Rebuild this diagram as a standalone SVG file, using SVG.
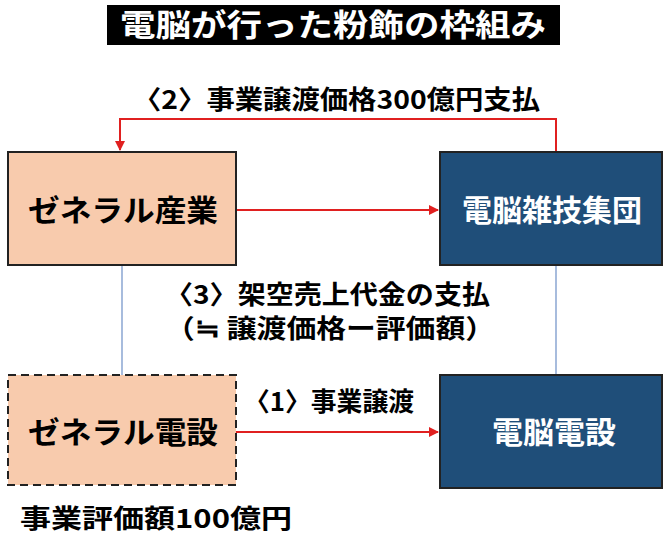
<svg xmlns="http://www.w3.org/2000/svg" width="670" height="543" viewBox="0 0 670 543">
<style>
text{font-family:"Noto Sans CJK JP","Noto Sans",sans-serif;font-weight:bold}
.lbl{font-size:26px;fill:#000}
.orange{fill:#f8cbad;stroke:#222;stroke-width:2}
.blue{fill:#1f4e79;stroke:#222;stroke-width:2}
.red{stroke:#e02020;stroke-width:2;fill:none}
.thin{stroke:#6d8fc7;stroke-width:1.2}
</style>
<defs><marker id="ah" viewBox="0 0 10 10" refX="9" refY="5" markerWidth="5" markerHeight="5" orient="auto"><path d="M0,0L10,5L0,10z" fill="#e02020"/></marker></defs>
<rect width="670" height="543" fill="#fff"/>
<g id="title"><rect x="107" y="5" width="453" height="40" fill="#000"/><text x="120" y="36" font-size="31" fill="#fff" textLength="426" lengthAdjust="spacingAndGlyphs">電脳が行った粉飾の枠組み</text></g>
<g id="connectors">
<line class="thin" x1="122" y1="265" x2="122" y2="375"/>
<line class="thin" x1="556" y1="265" x2="556" y2="375"/>
<path class="red" d="M556,152V119H120V150" marker-end="url(#ah)"/>
<line class="red" x1="236" y1="210" x2="438" y2="210" marker-end="url(#ah)"/>
<line class="red" x1="236" y1="432" x2="438" y2="432" marker-end="url(#ah)"/>
</g>
<g id="n1"><rect class="orange" x="8" y="152" width="228" height="113"/><text x="28" y="221" font-size="30" textLength="190" lengthAdjust="spacingAndGlyphs">ゼネラル産業</text></g>
<g id="n2"><rect class="blue" x="440" y="152" width="222" height="113"/><text x="462" y="221" font-size="30" fill="#fff" textLength="180" lengthAdjust="spacingAndGlyphs">電脳雑技集団</text></g>
<g id="n3"><rect class="orange" x="8" y="375" width="228" height="110" stroke-dasharray="8,5"/><text x="28" y="443" font-size="30" textLength="190" lengthAdjust="spacingAndGlyphs">ゼネラル電設</text></g>
<g id="n4"><rect class="blue" x="440" y="375" width="222" height="113"/><text x="492" y="443" font-size="30" fill="#fff" textLength="124" lengthAdjust="spacingAndGlyphs">電脳電設</text></g>
<text class="lbl" x="133" y="109" textLength="407" lengthAdjust="spacingAndGlyphs">〈2〉事業譲渡価格300億円支払</text>
<text class="lbl" x="165" y="304" textLength="325" lengthAdjust="spacingAndGlyphs">〈3〉架空売上代金の支払</text>
<text class="lbl" x="165" y="338" textLength="330" lengthAdjust="spacingAndGlyphs">（≒ 譲渡価格ー評価額）</text>
<text class="lbl" x="244" y="411" textLength="170" lengthAdjust="spacingAndGlyphs">〈1〉事業譲渡</text>
<text class="lbl" x="20" y="528" textLength="272" lengthAdjust="spacingAndGlyphs">事業評価額100億円</text>
</svg>
